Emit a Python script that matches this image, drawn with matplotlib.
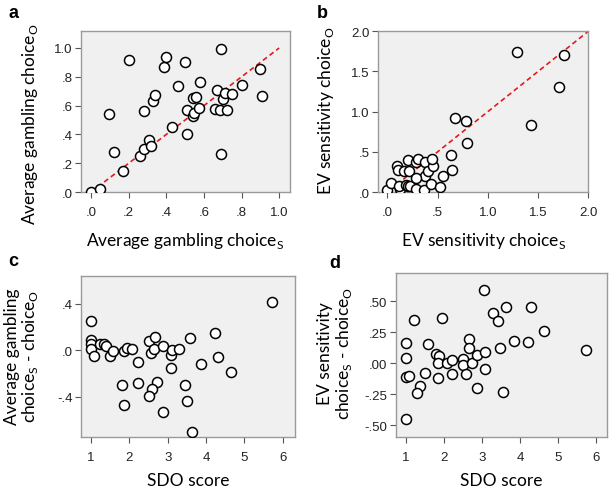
import matplotlib
matplotlib.use("Agg")
import matplotlib.pyplot as plt

# panel a: average gambling choice, self vs other
gamb_self = [0.00, 0.05, 0.095, 0.12, 0.17, 0.20, 0.26, 0.28, 0.28, 0.31, 0.32, 0.33, 0.34,
             0.39, 0.40, 0.43, 0.46, 0.50, 0.51, 0.51, 0.54, 0.54, 0.56, 0.55, 0.575, 0.58,
             0.66, 0.67, 0.685, 0.69, 0.69, 0.70, 0.71, 0.725, 0.75, 0.80, 0.90, 0.91]
gamb_other = [0.00, 0.02, 0.54, 0.28, 0.145, 0.917, 0.25, 0.566, 0.30, 0.36, 0.32, 0.635, 0.677,
              0.866, 0.94, 0.45, 0.739, 0.90, 0.40, 0.57, 0.655, 0.527, 0.66, 0.55, 0.585, 0.763,
              0.578, 0.709, 0.57, 0.99, 0.265, 0.645, 0.69, 0.573, 0.683, 0.742, 0.855, 0.665]

# panel b: EV sensitivity, self vs other
ev_self = [0.00, 0.037, 0.10, 0.11, 0.126, 0.12, 0.162, 0.19, 0.21, 0.22, 0.23, 0.209, 0.282,
           0.308, 0.375, 0.375, 0.282, 0.285, 0.37, 0.44, 0.408, 0.458, 0.45, 0.524, 0.557,
           0.634, 0.647, 0.673, 0.78, 0.79, 1.29, 1.755, 1.71, 1.43]
ev_other = [0.03, 0.12, 0.327, 0.277, 0.037, 0.078, 0.265, 0.09, 0.08, 0.265, 0.08, 0.40, 0.37,
            0.41, 0.37, 0.20, 0.174, 0.04, 0.03, 0.10, 0.265, 0.33, 0.418, 0.062, 0.20,
            0.46, 0.277, 0.919, 0.88, 0.61, 1.74, 1.71, 1.31, 0.84]

# panel c: SDO vs gambling difference
sdo_c = [1.0, 1.0, 1.0, 1.0, 1.09, 1.23, 1.33, 1.39, 1.50, 1.58, 1.80, 1.87, 1.85, 1.94, 2.08,
         2.23, 2.23, 2.52, 2.67, 2.56, 2.65, 2.87, 3.08, 3.10, 3.30, 3.08, 2.72, 2.58, 2.52,
         2.87, 3.45, 3.50, 3.59, 3.64, 3.86, 4.22, 4.31, 4.66, 5.72]
gamb_diff = [0.249, 0.09, 0.05, 0.01, -0.05, 0.05, 0.05, 0.037, -0.046, -0.01, -0.294, -0.466,
             -0.01, 0.02, 0.014, -0.10, -0.28, 0.077, 0.114, -0.023, 0.011, 0.034, -0.043, 0.0,
             0.011, -0.15, -0.274, -0.33, -0.394, -0.528, -0.30, -0.437, 0.104, -0.70, -0.12,
             0.151, -0.057, -0.183, 0.417]

# panel d: SDO vs EV sensitivity difference
sdo_d = [1.0, 1.0, 1.0, 1.08, 1.0, 1.22, 1.57, 1.50, 1.37, 1.30, 1.78, 1.87, 1.85, 1.85, 1.94,
         2.07, 2.22, 2.22, 2.51, 2.51, 2.57, 2.66, 2.66, 2.73, 2.86, 2.86, 3.08, 3.08, 3.06,
         3.28, 3.43, 3.47, 3.55, 3.63, 3.85, 4.22, 4.29, 4.63, 5.73]
ev_diff = [0.162, 0.04, -0.108, -0.10, -0.45, 0.346, 0.154, -0.081, -0.18, -0.243, 0.073, 0.06,
           0.0, -0.12, 0.365, 0.0, 0.027, -0.087, 0.032, -0.014, -0.087, 0.195, 0.122, 0.0,
           0.067, -0.197, 0.089, -0.049, 0.59, 0.405, 0.338, 0.122, -0.23, 0.451, 0.181,
           0.176, 0.451, 0.257, 0.108]

# identity / fit lines
line_a = [0.0, 1.0]
line_b = [0.03, 2.0]

ticks_a = [0.0, 0.2, 0.4, 0.6, 0.8, 1.0]
labels_a = [".0", ".2", ".4", ".6", ".8", "1.0"]
ticks_b = [0.0, 0.5, 1.0, 1.5, 2.0]
labels_b = [".0", ".5", "1.0", "1.5", "2.0"]
ticks_sdo = [1, 2, 3, 4, 5, 6]
ticks_c = [-0.4, 0.0, 0.4]
labels_c = ["-.4", ".0", ".4"]
ticks_d = [-0.5, -0.25, 0.0, 0.25, 0.5]
labels_d = ["-.50", "-.25", ".00", ".25", ".50"]

plt.rcParams['font.family'] = ['Liberation Sans', 'DejaVu Sans']
LABEL_FONT = 'Lato'
LABEL_SIZE = 12.5

fig = plt.figure(figsize=(6.09, 4.89), dpi=100)
ax_a = fig.add_axes([0.133, 0.605, 0.343, 0.329])
ax_b = fig.add_axes([0.621, 0.605, 0.345, 0.329])
ax_c = fig.add_axes([0.133, 0.104, 0.351, 0.329])
ax_d = fig.add_axes([0.650, 0.104, 0.346, 0.335])


def style(ax):
    ax.set_facecolor('#f0f0f0')
    for s in ax.spines.values():
        s.set_color('#9a9a9a')
        s.set_linewidth(1.0)
    ax.tick_params(axis='both', direction='out', length=4, width=0.8, color='#555555',
                   labelsize=9.5, labelcolor='#222222')
    ax.tick_params(axis='x', pad=6)
    ax.tick_params(axis='y', pad=2)


def points(ax, x, y):
    ax.scatter(x, y, s=52, facecolor='white', edgecolor='black', linewidth=1.1, zorder=3)


# a
style(ax_a)
ax_a.plot(line_a, line_a, color='#e31a1c', ls=(0, (3, 2)), lw=1.2, zorder=2)
points(ax_a, gamb_self, gamb_other)
ax_a.set_xlim(-0.053, 1.057)
ax_a.set_ylim(0, 1.116)
ax_a.set_xticks(ticks_a, labels_a)
ax_a.set_yticks(ticks_a, labels_a)
ax_a.set_xlabel(r'Average gambling choice$_\mathregular{S}$', family=LABEL_FONT, fontsize=LABEL_SIZE)
ax_a.set_ylabel(r'Average gambling choice$_\mathregular{O}$', family=LABEL_FONT, fontsize=LABEL_SIZE)
ax_a.xaxis.set_label_coords(0.5, -0.236)
ax_a.yaxis.set_label_coords(-0.196, 0.43)

# b
style(ax_b)
ax_b.plot(line_b, line_b, color='#e31a1c', ls=(0, (3, 2)), lw=1.2, zorder=2)
points(ax_b, ev_self, ev_other)
ax_b.set_xlim(-0.09, 2.0)
ax_b.set_ylim(0, 2.0)
ax_b.set_xticks(ticks_b, labels_b)
ax_b.set_yticks(ticks_b, labels_b)
ax_b.set_xlabel(r'EV sensitivity choice$_\mathregular{S}$', family=LABEL_FONT, fontsize=LABEL_SIZE)
ax_b.set_ylabel(r'EV sensitivity choice$_\mathregular{O}$', family=LABEL_FONT, fontsize=LABEL_SIZE)
ax_b.xaxis.set_label_coords(0.5, -0.236)
ax_b.yaxis.set_label_coords(-0.2, 0.51)

# c
style(ax_c)
points(ax_c, sdo_c, gamb_diff)
ax_c.set_xlim(0.74, 6.31)
ax_c.set_ylim(-0.745, 0.634)
ax_c.set_xticks(ticks_sdo)
ax_c.set_yticks(ticks_c, labels_c)
ax_c.set_xlabel('SDO score', family=LABEL_FONT, fontsize=LABEL_SIZE)
ax_c.set_ylabel('Average gambling\n' + r'choice$_\mathregular{S}$ - choice$_\mathregular{O}$',
                family=LABEL_FONT, fontsize=LABEL_SIZE, linespacing=1.05)
ax_c.xaxis.set_label_coords(0.5, -0.215)
ax_c.yaxis.set_label_coords(-0.19, 0.506)

# d
style(ax_d)
points(ax_d, sdo_d, ev_diff)
ax_d.set_xlim(0.73, 6.28)
ax_d.set_ylim(-0.597, 0.727)
ax_d.set_xticks(ticks_sdo)
ax_d.set_yticks(ticks_d, labels_d)
ax_d.set_xlabel('SDO score', family=LABEL_FONT, fontsize=LABEL_SIZE)
ax_d.set_ylabel('EV sensitivity\n' + r'choice$_\mathregular{S}$ - choice$_\mathregular{O}$',
                family=LABEL_FONT, fontsize=LABEL_SIZE, linespacing=1.05)
ax_d.xaxis.set_label_coords(0.5, -0.21)
ax_d.yaxis.set_label_coords(-0.2, 0.515)

# panel letters
for letter, x, y in [('a', 0.014, 0.99), ('b', 0.52, 0.99), ('c', 0.014, 0.483), ('d', 0.54, 0.478)]:
    fig.text(x, y, letter, fontsize=13, fontweight='bold', va='top', ha='left')

fig.savefig('out.png', dpi=100)
